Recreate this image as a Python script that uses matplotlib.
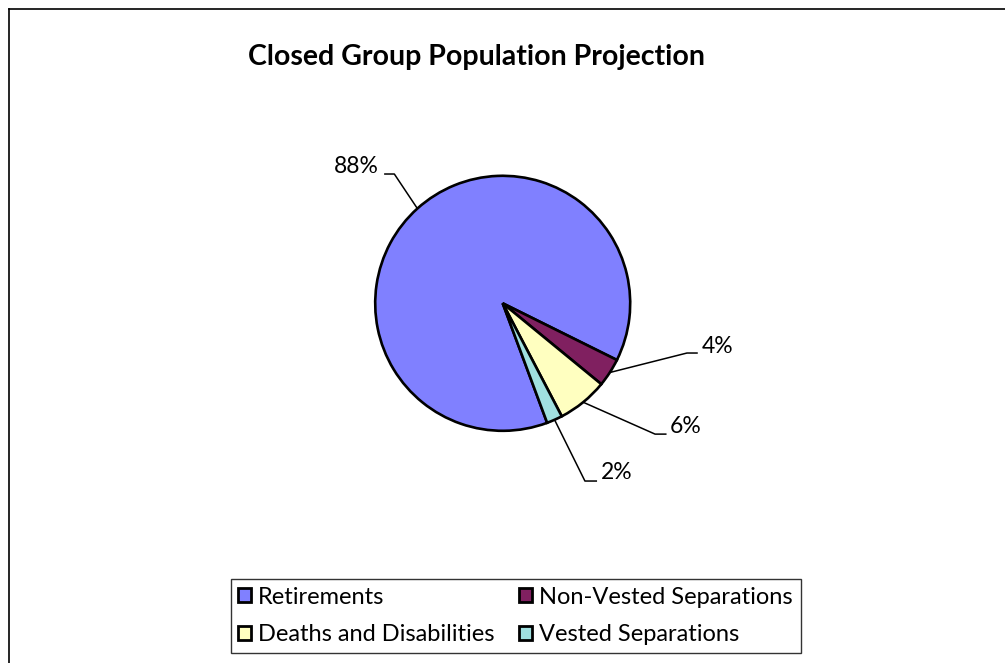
import numpy as np
import matplotlib
matplotlib.use("Agg")
import matplotlib.pyplot as plt
from matplotlib.lines import Line2D
from matplotlib.patches import Patch

# slice data (clockwise from the Retirements wedge)
categories = ["Retirements", "Non-Vested Separations",
              "Deaths and Disabilities", "Vested Separations"]
shares = [88.0, 3.6, 6.4, 2.0]
pct_labels = ["88%", "4%", "6%", "2%"]
colors = ["#8080FF", "#802060", "#FFFFC0", "#A0E0E0"]

W, H = 1005, 663
CX, CY, R = 502.7, 303.3, 127.5   # pie centre / radius in pixels

plt.rcParams["font.family"] = ["Lato", "DejaVu Sans"]

fig = plt.figure(figsize=(W / 100, H / 100), dpi=100)
ax = fig.add_axes([0, 0, 1, 1])

# Excel puts the small slices in the lower right: Retirements ends at ~-26 deg
start = -26.4 + shares[0] / 100 * 360
wedges, _ = ax.pie(shares, colors=colors, startangle=start, counterclock=False,
                   wedgeprops=dict(edgecolor="black", linewidth=1.9))
ax.set_xlim(-CX / R, (W - CX) / R)
ax.set_ylim(-(H - CY) / R, CY / R)
ax.set_aspect("auto")
ax.axis("off")

# leader lines: elbow start/end (data units) and text anchor for each label
elbows = [(-0.85, -0.93, 1.014), (1.445, 1.53, -0.39),
          (1.195, 1.285, -1.026), (0.645, 0.74, -1.394)]
text_pos = [(-0.975, 1.07, "right"), (1.56, -0.34, "left"),
            (1.31, -0.97, "left"), (0.77, -1.325, "left")]

for w, lab, (ex0, ex1, ey), (tx, ty, ha) in zip(wedges, pct_labels, elbows, text_pos):
    mid = np.deg2rad((w.theta1 + w.theta2) / 2)
    px, py = np.cos(mid), np.sin(mid)
    ax.plot([px, ex0, ex1], [py, ey, ey], color="black", lw=1.1,
            solid_capstyle="butt", zorder=3)
    ax.text(tx, ty, lab, ha=ha, va="center", fontsize=16.5)

fig.text(476 / W, 1 - 57 / H, "Closed Group Population Projection",
         ha="center", va="center", fontsize=20.5, fontweight="bold")

# chart-area border (only left and top edges fall inside the picture)
fig.add_artist(Line2D([9 / W, 9 / W], [0, 1 - 9 / H], color="black", lw=1.2,
                      transform=fig.transFigure))
fig.add_artist(Line2D([9 / W, 1], [1 - 9 / H, 1 - 9 / H], color="black", lw=1.2,
                      transform=fig.transFigure))

handles = [Patch(facecolor=c, edgecolor="black", linewidth=2.0) for c in colors]
order = [0, 2, 1, 3]
leg = fig.legend([handles[i] for i in order], [categories[i] for i in order],
                 ncol=2, loc="upper left", bbox_to_anchor=(230.5 / W, 1 - 579 / H),
                 fontsize=17, frameon=True, fancybox=False, borderaxespad=0,
                 handlelength=0.55, handleheight=0.55, handletextpad=0.3,
                 columnspacing=1.05, labelspacing=0.7, borderpad=0.32)
leg.get_frame().set_edgecolor("black")
leg.get_frame().set_linewidth(1.0)

fig.savefig("out.png", dpi=100)
